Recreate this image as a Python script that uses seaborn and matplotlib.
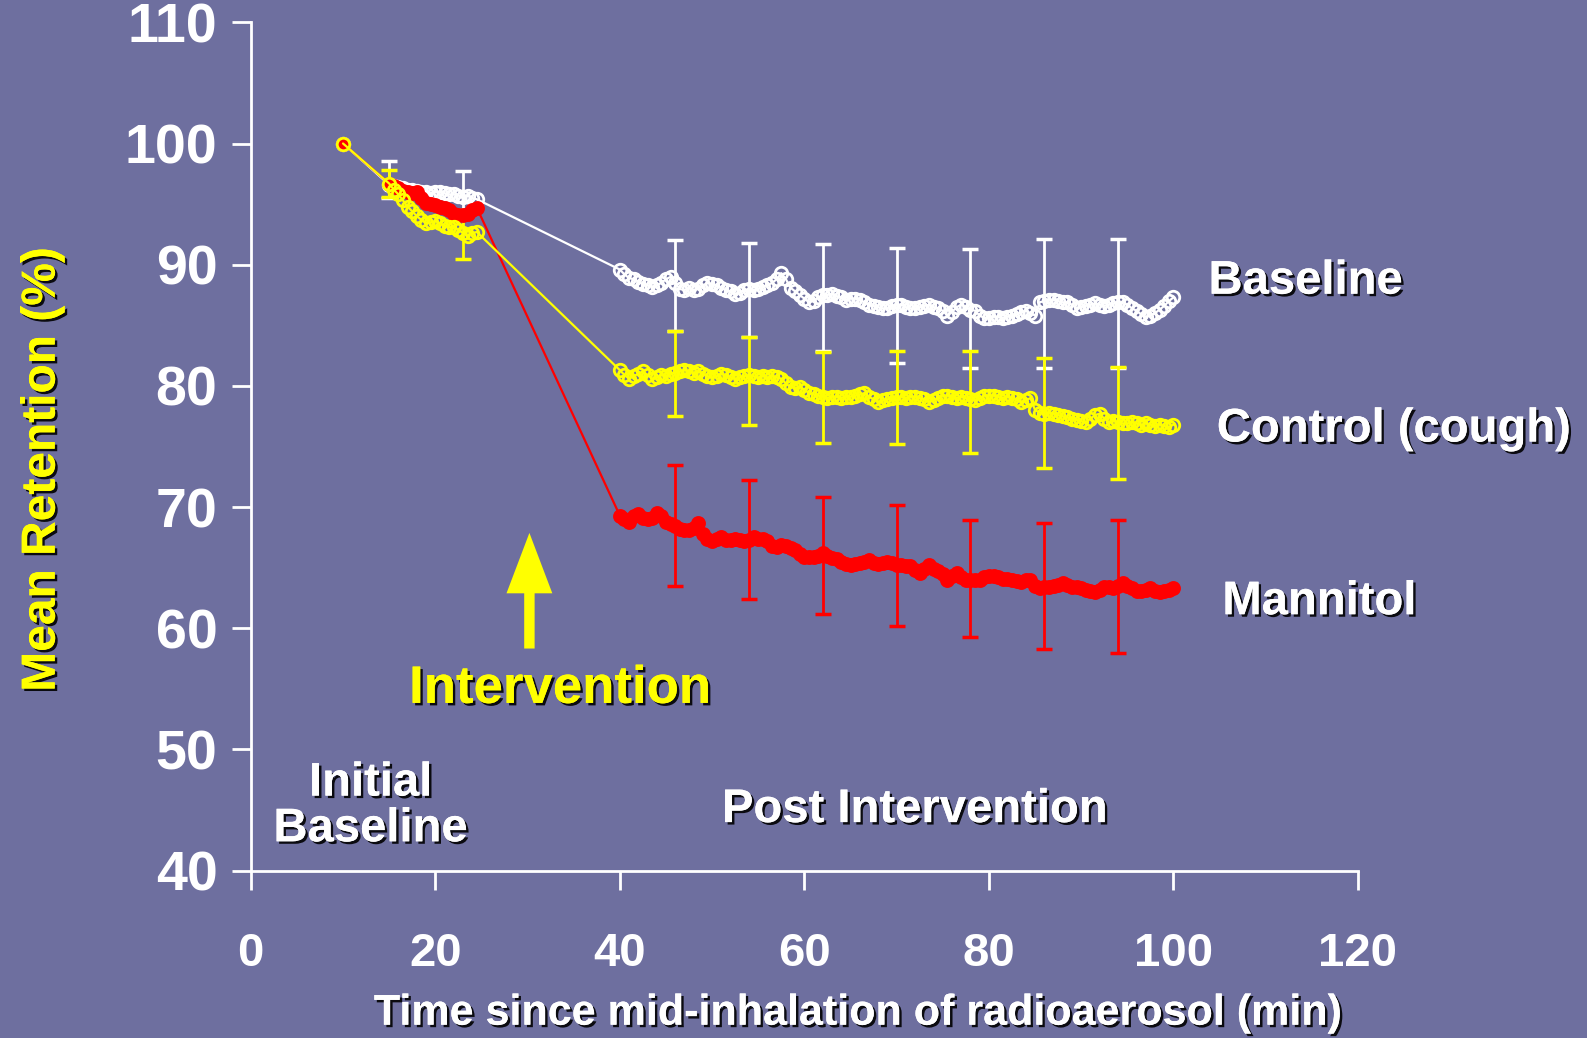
import numpy as np
import pandas as pd
import matplotlib.pyplot as plt
import matplotlib.patheffects as pe
import seaborn as sns

# sampling times (min)
t_early = [10] + list(np.arange(15, 25, 0.5))
t_late = list(np.arange(40, 100.5, 0.5))

# mean retention (%)
base_early = [100.0, 96.6, 96.5, 96.4, 96.3, 96.2, 96.2, 96.1, 96.0, 96.0, 95.9,
              96.0, 96.0, 95.9, 95.8, 95.8, 95.7, 95.6, 95.7, 95.5, 95.4]
ctrl_early = [100.0, 96.7, 96.2, 95.8, 95.3, 94.8, 94.4, 94.0, 93.7, 93.4, 93.5,
              93.6, 93.4, 93.2, 93.1, 93.1, 92.9, 92.6, 92.4, 92.6, 92.7]
mann_early = [100.0, 96.7, 96.5, 96.3, 96.1, 96.0, 95.9, 96.0, 95.5, 95.1, 95.0,
              94.9, 94.8, 94.7, 94.5, 94.2, 94.1, 94.1, 94.2, 94.5, 94.7]

base_late = [89.6, 89.2, 88.9, 88.8, 88.6, 88.4, 88.3, 88.2, 88.3, 88.5,
             88.8, 89.0, 88.5, 88.0, 87.9, 88.1, 87.9, 88.0, 88.3, 88.5,
             88.4, 88.3, 88.1, 87.9, 87.8, 87.6, 87.7, 87.9, 88.0, 87.9,
             88.0, 88.2, 88.3, 88.5, 88.8, 89.3, 88.8, 88.1, 87.8, 87.5,
             87.2, 86.9, 87.0, 87.3, 87.5, 87.5, 87.6, 87.4, 87.3, 87.1,
             87.2, 87.2, 87.1, 86.9, 86.7, 86.6, 86.5, 86.4, 86.4, 86.6,
             86.7, 86.7, 86.5, 86.4, 86.4, 86.5, 86.6, 86.7, 86.5, 86.4,
             86.2, 85.8, 86.1, 86.5, 86.7, 86.5, 86.3, 86.2, 85.8, 85.6,
             85.6, 85.7, 85.7, 85.6, 85.7, 85.8, 85.9, 86.1, 86.2, 86.0,
             85.8, 86.9, 87.0, 87.1, 87.1, 87.0, 86.9, 86.9, 86.7, 86.4,
             86.5, 86.6, 86.7, 86.8, 86.7, 86.6, 86.7, 86.8, 86.9, 86.9,
             86.7, 86.4, 86.2, 85.9, 85.7, 85.8, 86.0, 86.3, 86.6, 87.0,
             87.3]
ctrl_late = [81.3, 80.9, 80.6, 80.8, 81.0, 81.2, 80.9, 80.6, 80.7, 80.9,
             80.8, 81.0, 81.1, 81.2, 81.3, 81.2, 81.1, 81.2, 81.0, 80.8,
             80.7, 80.8, 81.0, 80.9, 80.7, 80.6, 80.7, 80.8, 80.9, 80.8,
             80.7, 80.8, 80.7, 80.8, 80.7, 80.6, 80.2, 79.9, 79.8, 79.9,
             79.7, 79.4, 79.3, 79.2, 79.1, 79.0, 79.1, 79.1, 79.0, 79.1,
             79.1, 79.2, 79.3, 79.4, 79.1, 78.9, 78.7, 78.8, 78.9, 79.0,
             79.1, 79.1, 79.0, 79.1, 79.1, 79.0, 78.9, 78.7, 78.8, 79.0,
             79.2, 79.2, 79.1, 79.0, 79.1, 79.0, 78.9, 78.8, 79.0, 79.2,
             79.2, 79.2, 79.1, 79.0, 79.1, 79.0, 78.9, 78.7, 78.8, 79.0,
             78.0, 77.8, 77.7, 77.8, 77.7, 77.6, 77.5, 77.4, 77.3, 77.2,
             77.1, 77.0, 77.3, 77.6, 77.7, 77.3, 77.0, 77.1, 77.0, 76.9,
             76.9, 77.0, 76.9, 76.8, 76.9, 76.8, 76.7, 76.8, 76.7, 76.6,
             76.8]
mann_late = [69.3, 69.0, 68.8, 69.3, 69.4, 69.1, 69.0, 69.1, 69.5, 69.3,
             68.8, 68.6, 68.4, 68.2, 68.1, 68.1, 68.3, 68.7, 67.8, 67.4,
             67.2, 67.4, 67.5, 67.3, 67.3, 67.4, 67.3, 67.2, 67.3, 67.5,
             67.4, 67.4, 67.2, 66.8, 66.7, 66.9, 66.8, 66.6, 66.5, 66.1,
             65.9, 65.9, 65.9, 66.0, 66.2, 66.0, 65.8, 65.7, 65.5, 65.3,
             65.2, 65.3, 65.4, 65.5, 65.6, 65.4, 65.3, 65.4, 65.5, 65.4,
             65.2, 65.2, 65.1, 65.1, 64.8, 64.6, 64.9, 65.2, 64.9, 64.7,
             64.5, 64.0, 64.3, 64.6, 64.2, 64.0, 64.0, 64.0, 64.0, 64.2,
             64.3, 64.3, 64.2, 64.1, 64.1, 64.0, 63.9, 63.8, 64.0, 64.0,
             63.5, 63.3, 63.4, 63.4, 63.5, 63.6, 63.7, 63.6, 63.4, 63.4,
             63.3, 63.2, 63.1, 63.0, 63.2, 63.4, 63.4, 63.3, 63.5, 63.7,
             63.5, 63.3, 63.1, 63.1, 63.2, 63.3, 63.1, 63.0, 63.1, 63.2,
             63.3]

# error bars (low / high ends)
base_err_x = [15, 23, 46, 54, 62, 70, 78, 86, 94]
base_err_lo = [95.5, 94.3, 84.5, 84.0, 82.9, 81.9, 81.5, 81.5, 81.5]
base_err_hi = [98.55, 97.75, 92.0, 91.8, 91.7, 91.35, 91.3, 92.1, 92.1]
ctrl_err_x = [15, 23, 46, 54, 62, 70, 78, 86, 94]
ctrl_err_lo = [95.6, 90.5, 77.5, 76.8, 75.3, 75.2, 74.5, 73.2, 72.3]
ctrl_err_hi = [97.8, 94.5, 84.5, 84.0, 82.8, 82.9, 82.9, 82.3, 81.6]
mann_err_x = [46, 54, 62, 70, 78, 86, 94]
mann_err_lo = [63.5, 62.4, 61.2, 60.2, 59.3, 58.3, 58.0]
mann_err_hi = [73.5, 72.2, 70.8, 70.2, 68.9, 68.7, 68.9]

x_ticks = [0, 20, 40, 60, 80, 100, 120]
y_ticks = [40, 50, 60, 70, 80, 90, 100, 110]

BG = '#6E6F9F'
RED = '#FF0000'
YEL = '#FFFF00'

sns.set_theme(style='ticks')
plt.rcParams['font.family'] = ['Liberation Sans', 'DejaVu Sans']
plt.rcParams['font.weight'] = 'bold'

t_all = t_early + t_late
df = pd.DataFrame({
    'time': t_all * 3,
    'value': base_early + base_late + ctrl_early + ctrl_late + mann_early + mann_late,
    'group': ['Baseline'] * len(t_all) + ['Control'] * len(t_all) + ['Mannitol'] * len(t_all),
})

fig = plt.figure(figsize=(15.87, 10.38), dpi=100, facecolor=BG)
ax = fig.add_axes([0.158, 0.1612, 0.6977, 0.8173])
ax.set_facecolor(BG)

shadow = [pe.withSimplePatchShadow(offset=(1.8, -1.8), shadow_rgbFace='black', alpha=0.9), pe.Normal()]

def errbars(xs, lo, hi, color):
    lo = np.array(lo)
    hi = np.array(hi)
    ax.errorbar(xs, (lo + hi) / 2, yerr=(hi - lo) / 2, fmt='none', ecolor=color,
                elinewidth=2.0, capsize=6, capthick=2.5, zorder=2)

errbars(base_err_x, base_err_lo, base_err_hi, 'white')
errbars(mann_err_x, mann_err_lo, mann_err_hi, RED)
errbars(ctrl_err_x, ctrl_err_lo, ctrl_err_hi, YEL)

sns.lineplot(data=df[df.group == 'Baseline'], x='time', y='value', ax=ax, sort=False,
             estimator=None, color='white', lw=1.6, marker='o', markersize=9,
             markerfacecolor='none', markeredgecolor='white', markeredgewidth=2.0, zorder=3)
sns.lineplot(data=df[df.group == 'Mannitol'], x='time', y='value', ax=ax, sort=False,
             estimator=None, color=RED, lw=1.6, marker='o', markersize=9.5,
             markerfacecolor=RED, markeredgecolor=RED, markeredgewidth=1.2, zorder=4)
sns.lineplot(data=df[df.group == 'Control'], x='time', y='value', ax=ax, sort=False,
             estimator=None, color=YEL, lw=1.6, marker='o', markersize=9,
             markerfacecolor='none', markeredgecolor=YEL, markeredgewidth=2.0, zorder=5)

ax.set_xlim(0, 120)
ax.set_ylim(40, 110)
ax.set_xticks(x_ticks)
ax.set_yticks(y_ticks)
ax.set_xticklabels([str(v) for v in x_ticks])
ax.set_yticklabels([str(v) for v in y_ticks])
for s in ['top', 'right']:
    ax.spines[s].set_visible(False)
for s in ['left', 'bottom']:
    ax.spines[s].set_color('white')
    ax.spines[s].set_linewidth(2)
ax.tick_params(axis='both', colors='white', width=2, length=14, direction='out')
ax.tick_params(axis='x', pad=30, labelsize=34)
ax.tick_params(axis='y', pad=10, labelsize=40)
for lab in ax.get_xticklabels() + ax.get_yticklabels():
    lab.set_fontweight('bold')
    lab.set_color('white')

ax.set_xlabel('Time since mid-inhalation of radioaerosol (min)', fontsize=31,
              fontweight='bold', color='white', path_effects=shadow)
ax.set_ylabel('Mean Retention (%)', fontsize=34.5, fontweight='bold', color=YEL,
              path_effects=shadow)

txt = dict(fontsize=34, fontweight='bold', color='white', path_effects=shadow,
           clip_on=False)
ax.text(103.8, 88.6, 'Baseline', ha='left', va='center', **txt)
ax.text(104.7, 76.4, 'Control (cough)', ha='left', va='center', **txt)
ax.text(105.3, 62.15, 'Mannitol', ha='left', va='center', **txt)
ax.text(13.0, 45.3, 'Initial\nBaseline', ha='center', va='center', linespacing=1.05, **txt)
ax.text(72.0, 45.0, 'Post Intervention', ha='center', va='center', **txt)
ax.text(33.5, 55.0, 'Intervention', ha='center', va='center', fontsize=38,
        fontweight='bold', color=YEL, path_effects=shadow)

ax.annotate('', xy=(30.2, 68.1), xytext=(30.2, 58.1),
            arrowprops=dict(arrowstyle='simple,head_length=1.45,head_width=1.1,tail_width=0.25',
                            color=YEL, lw=0, mutation_scale=30))

ax.yaxis.set_label_coords(-0.168, 0.473)
ax.xaxis.set_label_coords(0.547, -0.145)

fig.savefig('out.png', dpi=100, facecolor=BG)
